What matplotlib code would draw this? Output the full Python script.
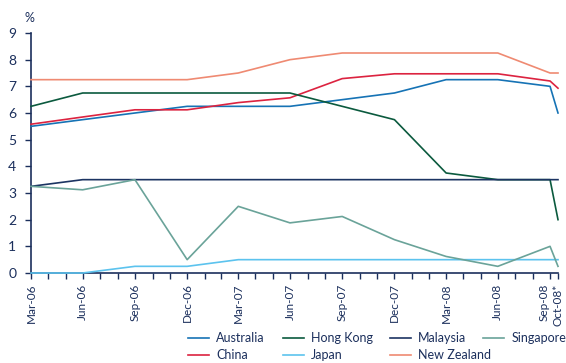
import matplotlib
matplotlib.use("Agg")
import matplotlib.pyplot as plt
import pandas as pd

# policy rates, quarter ends Mar-06 .. Sep-08 plus mid Oct-08
dates = ["2006-03-31", "2006-06-30", "2006-09-30", "2006-12-31",
         "2007-03-31", "2007-06-30", "2007-09-30", "2007-12-31",
         "2008-03-31", "2008-06-30", "2008-09-30", "2008-10-14"]

australia = [5.50, 5.75, 6.00, 6.25, 6.25, 6.25, 6.50, 6.75, 7.25, 7.25, 7.00, 6.00]
china = [5.58, 5.85, 6.12, 6.12, 6.39, 6.57, 7.29, 7.47, 7.47, 7.47, 7.20, 6.93]
hong_kong = [6.25, 6.75, 6.75, 6.75, 6.75, 6.75, 6.25, 5.75, 3.75, 3.50, 3.50, 2.00]
japan = [0.00, 0.00, 0.25, 0.25, 0.50, 0.50, 0.50, 0.50, 0.50, 0.50, 0.50, 0.50]
malaysia = [3.25, 3.50, 3.50, 3.50, 3.50, 3.50, 3.50, 3.50, 3.50, 3.50, 3.50, 3.50]
new_zealand = [7.25, 7.25, 7.25, 7.25, 7.50, 8.00, 8.25, 8.25, 8.25, 8.25, 7.50, 7.50]
singapore = [3.25, 3.12, 3.50, 0.50, 2.50, 1.88, 2.12, 1.25, 0.62, 0.25, 1.00, 0.25]

tick_labels = ["Mar-06", "Jun-06", "Sep-06", "Dec-06", "Mar-07", "Jun-07",
               "Sep-07", "Dec-07", "Mar-08", "Jun-08", "Sep-08", "Oct-08*"]

navy = "#1b2f5c"
plt.rcParams["font.family"] = ["Lato", "DejaVu Sans"]
plt.rcParams["font.size"] = 9

x = pd.to_datetime(dates)

fig = plt.figure(figsize=(5.66, 3.63), dpi=100)
ax = fig.add_axes([31 / 566, 1 - 273 / 363, (558 - 31) / 566, (273 - 33) / 363])

series = {
    "Australia": (australia, "#1673b5"),
    "China": (china, "#dc2340"),
    "Hong Kong": (hong_kong, "#0b5a3e"),
    "Japan": (japan, "#5cc3ee"),
    "Malaysia": (malaysia, "#1c3462"),
    "New Zealand": (new_zealand, "#ef8a72"),
    "Singapore": (singapore, "#6aa399"),
}
lines = {}
for name, (vals, col) in series.items():
    lines[name], = ax.plot(x, vals, color=col, lw=1.2, label=name,
                           clip_on=False, zorder=3)

ax.set_xlim(x[0], x[-1])
ax.set_ylim(0, 9)
ax.set_yticks(range(10))

ax.set_xticks(x)
ax.set_xticklabels(tick_labels, rotation=90, fontsize=8.5)
months = pd.date_range("2006-03-31", "2008-09-30", freq="ME")
ax.set_xticks(months, minor=True)

# Sep-08 and Oct-08 ticks sit very close: push Sep-08 to the left of its tick
ax.get_xticklabels()[-2].set_horizontalalignment("right")

for s in ["top", "right"]:
    ax.spines[s].set_visible(False)
for s in ["left", "bottom"]:
    ax.spines[s].set_color(navy)
    ax.spines[s].set_linewidth(1.2)
ax.tick_params(axis="both", which="both", color=navy, labelcolor=navy,
               length=4.5, width=1.0, direction="out")
ax.tick_params(axis="y", pad=6, labelsize=10)
ax.tick_params(axis="x", pad=3)

fig.text(29 / 566, 1 - 18 / 363, "%", color=navy, ha="center", va="center", fontsize=9)

# legend: four fixed-position columns
columns = [(188, ["Australia", "China"]), (283, ["Hong Kong", "Japan"]),
           (390, ["Malaysia", "New Zealand"]), (483, ["Singapore"])]
for xpos, names in columns:
    fig.legend([lines[n] for n in names], names, loc="upper left",
               bbox_to_anchor=(xpos / 566, 1 - 332 / 363), ncol=1,
               frameon=False, handlelength=1.7, handletextpad=0.55,
               labelspacing=0.4, borderaxespad=0, borderpad=0,
               labelcolor=navy, fontsize=9)

fig.savefig("out.png", dpi=100)
